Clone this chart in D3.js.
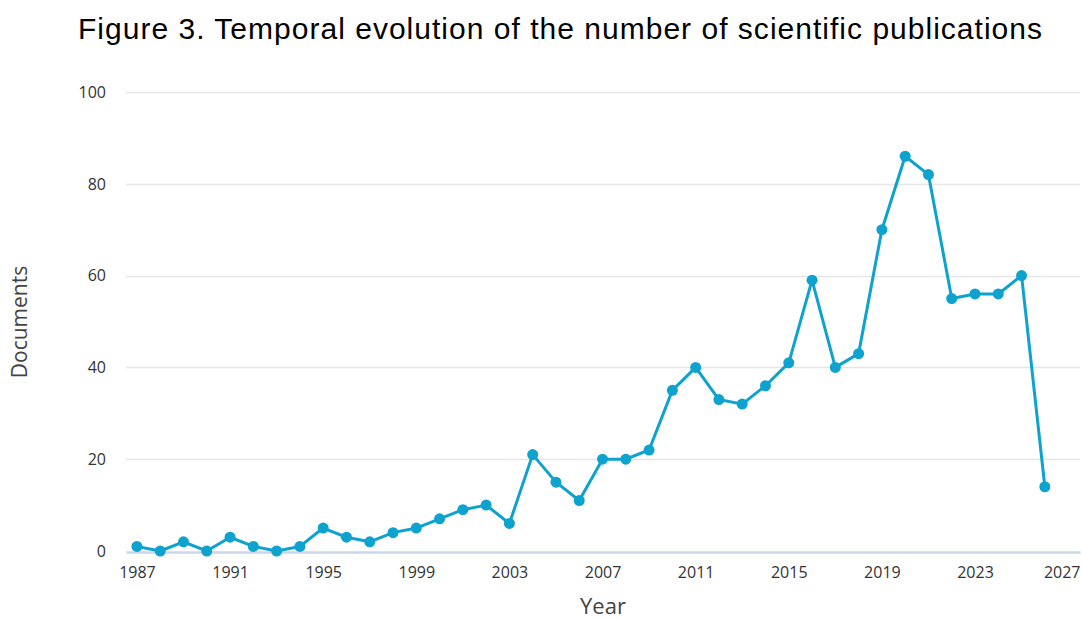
<!DOCTYPE html>
<html>
<head>
<meta charset="utf-8">
<script src="https://cdn.jsdelivr.net/npm/d3@7"></script>
<style>
  body { margin: 0; background: #fff; overflow: hidden; }
  svg { display: block; }
</style>
</head>
<body>
<div id="chart"></div>
<script>
// data
const years = d3.range(1987, 2027);
const documents = [1, 0, 2, 0, 3, 1, 0, 1, 5, 3,
                   2, 4, 5, 7, 9, 10, 6, 21, 15, 11,
                   20, 20, 22, 35, 40, 33, 32, 36, 41, 59,
                   40, 43, 70, 86, 82, 55, 56, 56, 60, 14];
const yTicks = [0, 20, 40, 60, 80, 100];
const xTicks = [1987, 1991, 1995, 1999, 2003, 2007, 2011, 2015, 2019, 2023, 2027];

const width = 1082, height = 619;
const margin = {top: 92, right: 2, bottom: 67, left: 126};
const labelFont = '"Open Sans", "DejaVu Sans", sans-serif';

const svg = d3.select('#chart').append('svg')
    .attr('width', width)
    .attr('height', height);

// title
svg.append('text')
    .attr('x', 78)
    .attr('y', 39)
    .attr('textLength', 964)
    .attr('lengthAdjust', 'spacing')
    .style('font-family', '"Liberation Sans", Arial, sans-serif')
    .style('font-size', '30px')
    .style('fill', '#000')
    .text('Figure 3. Temporal evolution of the number of scientific publications');

const innerW = width - margin.left - margin.right;
const innerH = height - margin.top - margin.bottom;

const chart = svg.append('g')
    .attr('transform', `translate(${margin.left},${margin.top})`);

const xScale = d3.scaleLinear()
    .domain([1986.53, 2027.51])
    .range([0, innerW]);

const yScale = d3.scaleLinear()
    .domain([0, 100])
    .range([innerH - 1, 0]);

// gridlines
chart.append('g')
    .selectAll('line')
    .data(yTicks.filter(d => d > 0))
    .join('line')
    .attr('x1', 0)
    .attr('x2', innerW)
    .attr('y1', d => Math.round(yScale(d)) + 0.5)
    .attr('y2', d => Math.round(yScale(d)) + 0.5)
    .attr('stroke', '#e6e6e6')
    .attr('stroke-width', 1.5);

// y axis labels
chart.append('g')
    .selectAll('text')
    .data(yTicks)
    .join('text')
    .attr('x', -20)
    .attr('y', d => yScale(d))
    .attr('dy', '0.36em')
    .attr('text-anchor', 'end')
    .style('font-family', labelFont)
    .style('font-size', '16px')
    .style('fill', '#333')
    .text(d => d);

// x axis
const xAxis = d3.axisBottom(xScale)
    .tickValues(xTicks)
    .tickFormat(d3.format('d'))
    .tickSize(0)
    .tickPadding(15);

const xAxisGroup = chart.append('g')
    .attr('transform', `translate(0, ${innerH})`)
    .call(xAxis);

xAxisGroup.select('.domain')
    .attr('stroke', '#ccd6eb')
    .attr('stroke-width', 2.5);

xAxisGroup.selectAll('text')
    .style('font-family', labelFont)
    .style('font-size', '16px')
    .style('fill', '#333');

// keep the last label inside the plot, like the original
xAxisGroup.selectAll('.tick')
    .filter(d => d === 2027)
    .select('text')
    .attr('text-anchor', 'end')
    .attr('x', innerW - xScale(2027));

// axis titles
svg.append('text')
    .attr('x', 603)
    .attr('y', 614)
    .attr('text-anchor', 'middle')
    .style('font-family', labelFont)
    .style('font-size', '22px')
    .style('fill', '#444')
    .text('Year');

svg.append('text')
    .attr('transform', 'translate(27, 322) rotate(-90)')
    .attr('text-anchor', 'middle')
    .style('font-family', labelFont)
    .style('font-size', '21px')
    .style('fill', '#444')
    .text('Documents');

// series
const series = years.map((y, i) => ({year: y, value: documents[i]}));

const line = d3.line()
    .x(d => xScale(d.year))
    .y(d => yScale(d.value));

chart.append('path')
    .datum(series)
    .attr('d', line)
    .attr('fill', 'none')
    .attr('stroke', '#0ea2cf')
    .attr('stroke-width', 3)
    .attr('stroke-linejoin', 'round');

chart.selectAll('circle')
    .data(series)
    .join('circle')
    .attr('cx', d => xScale(d.year))
    .attr('cy', d => yScale(d.value))
    .attr('r', 5.5)
    .attr('fill', '#0ea2cf');
</script>
</body>
</html>
